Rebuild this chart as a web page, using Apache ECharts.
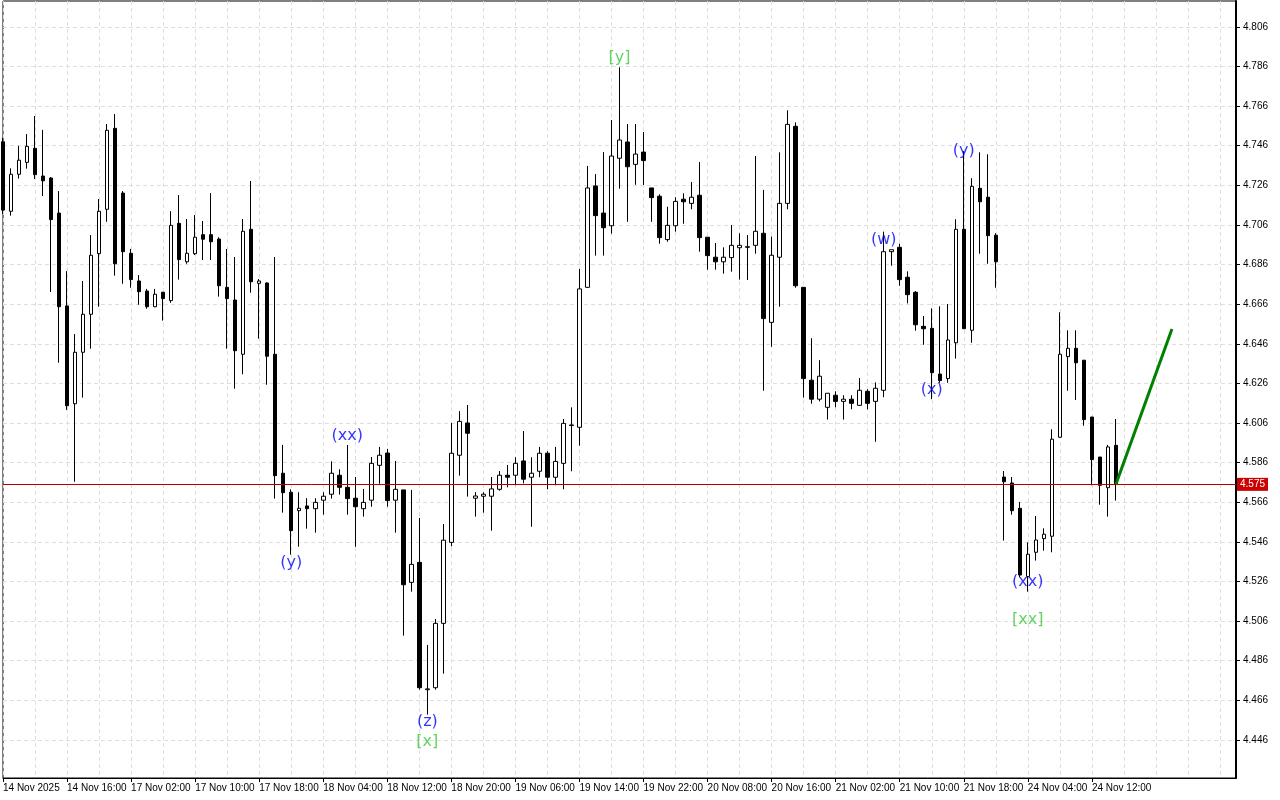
<!DOCTYPE html>
<html><head><meta charset="utf-8">
<script src="https://cdn.jsdelivr.net/npm/echarts@6/dist/echarts.min.js"></script>
<style>html,body{margin:0;padding:0;background:#fff}#c{width:1280px;height:800px}</style>
</head><body><div id="c"></div>
<script>
const opens = [4.7480,4.7129,4.7316,4.7376,4.7447,4.7307,4.7297,4.7120,4.6651,4.6157,
4.6417,4.6609,4.6915,4.7139,4.7548,4.7221,4.6917,4.6777,4.6726,4.6647,
4.6720,4.6678,4.7068,4.6874,4.6915,4.7011,4.7011,4.6989,4.6745,4.6681,
4.6407,4.7038,4.6765,4.6767,4.6407,4.5806,4.5710,4.5617,4.5641,4.5627,
4.5670,4.5700,4.5796,4.5735,4.5680,4.5627,4.5670,4.5846,4.5908,4.5670,
4.5722,4.5255,4.5356,4.4713,4.4723,4.5048,4.5457,4.5897,4.6060,4.5680,
4.5690,4.5690,4.5725,4.5796,4.5796,4.5868,4.5786,4.5816,4.5907,4.5786,
4.5856,4.6047,4.6038,4.6745,4.7257,4.7120,4.7056,4.7397,4.7479,4.7366,
4.7428,4.7247,4.7205,4.6986,4.7056,4.7190,4.7169,4.7210,4.6998,4.6897,
4.6874,4.6895,4.6945,4.6947,4.6957,4.7018,4.6568,4.6897,4.7169,4.7558,
4.6745,4.6276,4.6180,4.6139,4.6200,4.6169,4.6180,4.6149,4.6220,4.6169,
4.6225,4.6925,4.6947,4.6796,4.6720,4.6548,4.6538,4.6307,4.6284,4.6465,
4.7038,4.6528,4.7245,4.7200,4.7008,4.5787,4.5757,4.5629,4.5284,4.5407,
4.5476,4.5488,4.5988,4.6395,4.6437,4.6377,4.6090,4.5888,4.5733,4.5947];
const closes = [4.7135,4.7316,4.7387,4.7457,4.7314,4.7283,4.7087,4.6647,4.6147,4.6417,
4.6609,4.6907,4.7129,4.7538,4.6864,4.6925,4.6784,4.6723,4.6647,4.6710,
4.6688,4.7058,4.6885,4.6917,4.6998,4.6988,4.6975,4.6753,4.6688,4.6425,
4.7028,4.6773,4.6777,4.6397,4.5794,4.5708,4.5516,4.5629,4.5627,4.5659,
4.5690,4.5806,4.5735,4.5678,4.5637,4.5659,4.5856,4.5897,4.5668,4.5725,
4.5243,4.5346,4.4723,4.4717,4.5048,4.5468,4.5907,4.6068,4.6008,4.5691,
4.5700,4.5727,4.5796,4.5786,4.5856,4.5776,4.5806,4.5907,4.5786,4.5866,
4.6058,4.6050,4.6737,4.7247,4.7107,4.7046,4.7408,4.7489,4.7354,4.7418,
4.7385,4.7198,4.6996,4.7058,4.7179,4.7177,4.7200,4.6996,4.6905,4.6874,
4.6897,4.6957,4.6957,4.6950,4.7028,4.6587,4.6907,4.7169,4.7568,4.6753,
4.6284,4.6180,4.6296,4.6210,4.6169,4.6180,4.6159,4.6225,4.6159,4.6235,
4.6925,4.6935,4.6784,4.6708,4.6556,4.6536,4.6314,4.6274,4.6479,4.7038,
4.6536,4.7255,4.7177,4.7006,4.6874,4.5763,4.5617,4.5292,4.5397,4.5469,
4.5498,4.5978,4.6407,4.6437,4.6364,4.6077,4.5875,4.5745,4.5939,4.5750];
const lows = [4.7115,4.7107,4.7294,4.7344,4.7292,4.7206,4.6721,4.6364,4.6126,4.5763,
4.6188,4.6435,4.6647,4.7076,4.6804,4.6763,4.6743,4.6657,4.6637,4.6645,
4.6577,4.6667,4.6784,4.6864,4.6908,4.6883,4.6883,4.6698,4.6435,4.6233,
4.6306,4.6718,4.6486,4.6253,4.5678,4.5607,4.5395,4.5435,4.5526,4.5506,
4.5597,4.5678,4.5698,4.5597,4.5435,4.5587,4.5637,4.5753,4.5637,4.5506,
4.4986,4.5208,4.4713,4.4587,4.4713,4.4794,4.5437,4.5794,4.5688,4.5587,
4.5607,4.5516,4.5718,4.5735,4.5745,4.5755,4.5536,4.5786,4.5725,4.5745,
4.5725,4.5816,4.5945,4.6742,4.6905,4.6905,4.7016,4.7243,4.7076,4.7263,
4.7262,4.7076,4.6965,4.6975,4.7026,4.7066,4.7139,4.6925,4.6834,4.6834,
4.6814,4.6824,4.6784,4.6782,4.6915,4.6223,4.6445,4.6647,4.7139,4.6743,
4.6188,4.6157,4.6169,4.6077,4.6139,4.6077,4.6129,4.6146,4.6129,4.5965,
4.6190,4.6854,4.6753,4.6664,4.6526,4.6455,4.6180,4.6263,4.6263,4.6385,
4.6536,4.6465,4.6915,4.6864,4.6743,4.5466,4.5597,4.5282,4.5208,4.5365,
4.5415,4.5407,4.5985,4.6223,4.6176,4.6046,4.5745,4.5647,4.5587,4.5668];
const highs = [4.7500,4.7346,4.7459,4.7519,4.7610,4.7540,4.7302,4.7231,4.6827,4.6509,
4.6777,4.7009,4.7191,4.7570,4.7620,4.7231,4.6939,4.6807,4.6737,4.6737,
4.6722,4.7130,4.7211,4.7090,4.7110,4.7080,4.7221,4.6998,4.6939,4.6898,
4.7090,4.7282,4.6787,4.6770,4.6898,4.5949,4.5725,4.5710,4.5680,4.5680,
4.5710,4.5866,4.5826,4.5949,4.5787,4.5727,4.5888,4.5939,4.5929,4.5868,
4.5722,4.5722,4.5580,4.4939,4.5070,4.5550,4.6060,4.6120,4.6151,4.5711,
4.5710,4.5787,4.5817,4.5848,4.5887,4.6019,4.5887,4.5939,4.5917,4.5939,
4.6080,4.6139,4.6838,4.7358,4.7317,4.7428,4.7590,4.7856,4.7570,4.7570,
4.7529,4.7247,4.7215,4.7152,4.7200,4.7220,4.7277,4.7378,4.6998,4.6969,
4.6947,4.7060,4.7018,4.7009,4.7408,4.7237,4.7001,4.7427,4.7639,4.7578,
4.6745,4.6488,4.6377,4.6210,4.6220,4.6200,4.6200,4.6287,4.6230,4.6265,
4.7026,4.6935,4.6965,4.6826,4.6726,4.6600,4.6639,4.6649,4.6661,4.7089,
4.7433,4.7296,4.7427,4.7417,4.7018,4.5817,4.5787,4.5661,4.5457,4.5590,
4.5528,4.6028,4.6619,4.6528,4.6528,4.6377,4.6090,4.5888,4.5949,4.6080];

const timeLabels = ['14 Nov 2025','14 Nov 16:00','17 Nov 02:00','17 Nov 10:00','17 Nov 18:00','18 Nov 04:00',
'18 Nov 12:00','18 Nov 20:00','19 Nov 06:00','19 Nov 14:00','19 Nov 22:00','20 Nov 08:00','20 Nov 16:00',
'21 Nov 02:00','21 Nov 10:00','21 Nov 18:00','24 Nov 04:00','24 Nov 12:00'];
const barsPerLabel = 8;
const futureBars = 15;

const priceTicks = [4.446,4.466,4.486,4.506,4.526,4.546,4.566,4.586,4.606,4.626,4.646,4.666,4.686,4.706,4.726,4.746,4.766,4.786,4.806];

const waveText  = ['(y)','(xx)','(z)','[x]','[y]','(w)','(x)','(y)','(xx)','[xx]'];
const waveBar   = [36, 43, 53, 53, 77, 110, 116, 120, 128, 128];
const wavePrice = [4.5353, 4.5994, 4.4550, 4.4449, 4.7903, 4.6984, 4.6227, 4.7434, 4.5257, 4.5065];
const waveGreen = [false,false,false,true,true,false,false,false,false,true];

const projBars = [139, 146];
const projPrices = [4.575, 4.6535];

const nBars = opens.length;
const categories = [];
for (let i = 0; i < nBars + futureBars; i++) categories.push(String(i));
const candles = opens.map((o, i) => [o, closes[i], lows[i], highs[i]]);
const lastClose = closes[nBars - 1];
const isLabelBar = idx => idx % barsPerLabel === 0 && idx < nBars;

const chart = echarts.init(document.getElementById('c'), null, {renderer: 'canvas'});
const gridLine = {color: '#dedede', type: [4, 3], width: 1};

chart.setOption({
  animation: false,
  backgroundColor: '#ffffff',
  grid: {left: 2, top: 1, right: 44, bottom: 22, show: true, borderColor: '#000', borderWidth: 1, backgroundColor: '#fff'},
  xAxis: {
    type: 'category', data: categories, boundaryGap: false,
    axisLine: {show: true, lineStyle: {color: '#000', width: 1}},
    axisTick: {show: true, interval: idx => isLabelBar(idx), length: 4, lineStyle: {color: '#000'}},
    axisLabel: {
      interval: idx => isLabelBar(idx), align: 'left', margin: 5, color: '#000',
      fontFamily: 'Liberation Sans', fontSize: 10,
      formatter: (v, idx) => isLabelBar(idx) ? (timeLabels[idx / barsPerLabel] || '') : ''
    },
    splitLine: {show: true, interval: 3, lineStyle: gridLine}
  },
  yAxis: {
    type: 'value', position: 'right', scale: true,
    min: 4.4267, max: 4.8191,
    axisLine: {show: true, lineStyle: {color: '#000', width: 2}},
    axisTick: {show: true, inside: false, length: 4, customValues: priceTicks, lineStyle: {color: '#000'}},
    axisLabel: {customValues: priceTicks, margin: 7, color: '#000', fontFamily: 'Liberation Sans', fontSize: 10,
      formatter: v => Number(v).toFixed(3)},
    splitLine: {show: true, lineStyle: gridLine}
  },
  series: [
    {
      type: 'candlestick', data: candles, barWidth: 4,
      itemStyle: {color: '#ffffff', color0: '#000000', borderColor: '#000000', borderColor0: '#000000', borderWidth: 1},
      markLine: {
        silent: true, symbol: ['none', 'none'], animation: false, precision: 4,
        lineStyle: {color: '#b40000', width: 1, type: 'solid'},
        label: {show: true, position: 'end', distance: 1, formatter: p => Number(p.value).toFixed(3),
          color: '#fff', backgroundColor: '#cc0000', padding: [2, 3, 1, 3], fontFamily: 'Liberation Sans', fontSize: 10},
        data: [{yAxis: lastClose}]
      }
    },
    {
      type: 'line', data: projBars.map((b, i) => [b, projPrices[i]]),
      symbol: 'none', lineStyle: {color: '#008000', width: 3}, z: 5
    },
    {
      type: 'scatter', symbolSize: 0, z: 6,
      data: waveText.map((t, i) => ({
        value: [waveBar[i], wavePrice[i]],
        label: {show: true, position: 'inside', formatter: t, color: waveGreen[i] ? '#3cc83c' : '#0000ff',
          fontFamily: 'DejaVu Sans', fontSize: 16}
      }))
    }
  ]
});
</script></body></html>
